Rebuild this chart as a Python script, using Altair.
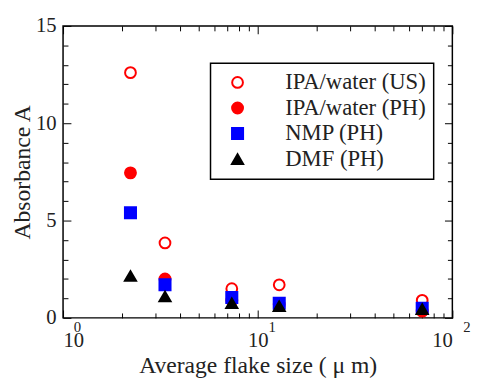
import altair as alt
import pandas as pd

# ---- data ----
flake_size = [2.22, 3.34, 7.36, 12.9, 70.0]
series_names = ["IPA/water (US)", "IPA/water (PH)", "NMP (PH)", "DMF (PH)"]
ipa_us = [12.6, 3.85, 1.5, 1.7, 0.9]
ipa_ph = [7.45, 2.0, 0.9, 0.7, 0.35]
nmp_ph = [5.4, 1.7, 1.05, 0.75, 0.5]
dmf_ph = [2.15, 1.1, 0.75, 0.6, 0.45]

x_major = [1, 10, 100]
x_minor = [2, 3, 4, 5, 6, 7, 8, 9, 20, 30, 40, 50, 60, 70, 80, 90]
y_major = [0, 5, 10, 15]
y_minor = [1, 2, 3, 4, 6, 7, 8, 9, 11, 12, 13, 14]
exponents = ["0", "1", "2"]

rows = []
for name, vals in zip(series_names, [ipa_us, ipa_ph, nmp_ph, dmf_ph]):
    for s, v in zip(flake_size, vals):
        rows.append({"size": s, "A": v, "series": name})
df = pd.DataFrame(rows)
exp_df = pd.DataFrame({"v": x_major, "e": exponents})

W, H = 396, 297
FONT = "Liberation Serif"
TXT = "#222222"

xs = alt.Scale(type="log", domain=[1, 100], nice=False)
ys = alt.Scale(domain=[0, 15], nice=False, zero=False)

legend = alt.Legend(title=None, orient="none", legendX=150, legendY=38)

points = alt.Chart(df).mark_point(strokeWidth=2, opacity=1).encode(
    x=alt.X("size:Q", scale=xs, axis=alt.Axis(
        values=x_major, labelExpr="'10'", ticks=False, domain=False, grid=False,
        labelFont=FONT, labelFontSize=21, labelColor=TXT, labelPadding=12,
        title="Average flake size ( \u03bc m)", titleFont=FONT, titleFontSize=24,
        titleFontWeight="normal", titleColor=TXT, titlePadding=4)),
    y=alt.Y("A:Q", scale=ys, axis=alt.Axis(
        values=y_major, ticks=False, domain=False, grid=False,
        labelFont=FONT, labelFontSize=21, labelColor=TXT, labelPadding=7,
        title="Absorbance A", titleFont=FONT, titleFontSize=24,
        titleFontWeight="normal", titleColor=TXT, titlePadding=1)),
    shape=alt.Shape("series:N", scale=alt.Scale(
        domain=series_names, range=["circle", "circle", "square", "triangle-up"]), legend=legend),
    stroke=alt.Stroke("series:N", scale=alt.Scale(
        domain=series_names, range=["#ff0000", "#ff0000", "#0000ff", "#000000"]), legend=legend),
    fill=alt.Fill("series:N", scale=alt.Scale(
        domain=series_names, range=["#ffffff", "#ff0000", "#0000ff", "#000000"]), legend=legend),
    size=alt.Size("series:N", scale=alt.Scale(
        domain=series_names, range=[120, 130, 100, 95]), legend=legend),
)


def tick_layer(channel, orient, vals, size):
    ax = alt.Axis(orient=orient, values=vals, labels=False, domain=False, grid=False,
                  ticks=True, tickSize=size, offset=-size, tickColor="black",
                  tickWidth=1, title=None)
    base = alt.Chart(df).mark_point(opacity=0)
    if channel == "x":
        return base.encode(x=alt.X("size:Q", scale=xs, axis=ax),
                           y=alt.Y("A:Q", scale=ys, axis=None))
    return base.encode(x=alt.X("size:Q", scale=xs, axis=None),
                       y=alt.Y("A:Q", scale=ys, axis=ax))


ticks = [
    tick_layer("x", "bottom", x_major, 8), tick_layer("x", "bottom", x_minor, 5),
    tick_layer("x", "top", x_major, 8), tick_layer("x", "top", x_minor, 5),
    tick_layer("y", "left", y_major, 8), tick_layer("y", "left", y_minor, 5),
    tick_layer("y", "right", y_major, 8), tick_layer("y", "right", y_minor, 5),
]

exp_text = alt.Chart(exp_df).mark_text(
    font=FONT, fontSize=15, color=TXT, align="left", baseline="alphabetic", dx=11
).encode(x=alt.X("v:Q", scale=xs, axis=None), y=alt.value(H + 14), text="e:N")

# drop shadow of the legend frame
shadow = alt.Chart(pd.DataFrame({"k": [0]})).mark_rect(color="black").encode(
    x=alt.value(154), x2=alt.value(375), y=alt.value(42), y2=alt.value(156))

chart = alt.layer(shadow, points, *ticks, exp_text).resolve_axis(
    x="independent", y="independent"
).properties(
    width=W, height=H,
    background="white",
    autosize=alt.AutoSizeParams(type="none"),
    padding={"left": 56, "top": 15, "right": 21, "bottom": 62},
).configure_view(
    stroke="black", strokeWidth=1.5
).configure_legend(
    labelFont=FONT, labelFontSize=23, labelColor=TXT, labelLimit=300,
    symbolStrokeWidth=2, symbolOffset=8, labelOffset=37, rowPadding=2,
    padding=8, strokeColor="black", fillColor="white", strokeWidth=1.5,
)

chart.save("out.html", embed_options={"renderer": "svg", "actions": False})
